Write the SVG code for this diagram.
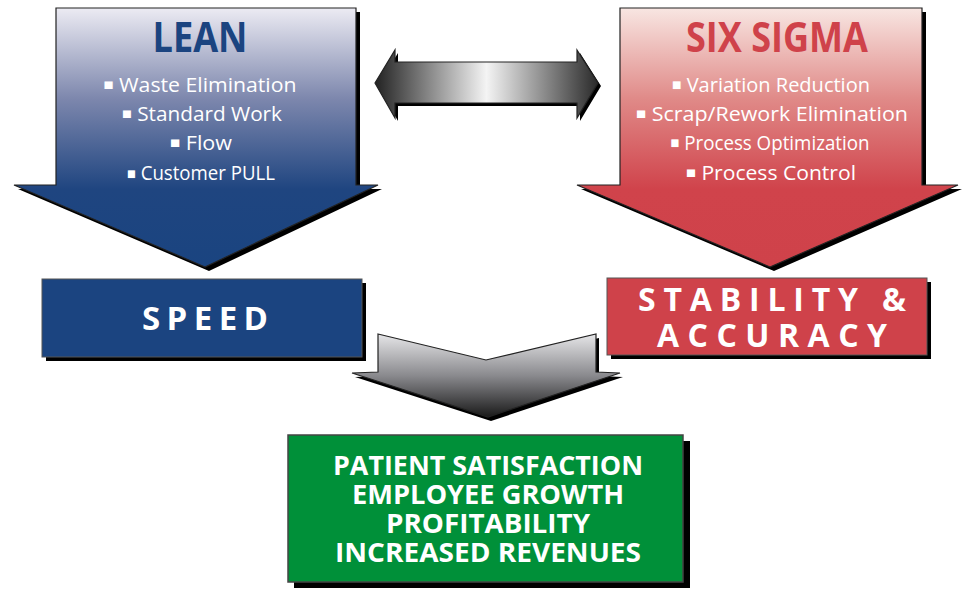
<svg xmlns="http://www.w3.org/2000/svg" width="966" height="590" viewBox="0 0 966 590">
<defs>
<linearGradient id="gLean" x1="0" y1="8" x2="0" y2="267" gradientUnits="userSpaceOnUse">
<stop offset="0" stop-color="#ecebf3"/>
<stop offset="0.35" stop-color="#7d87ad"/>
<stop offset="0.7" stop-color="#1f4580"/>
<stop offset="1" stop-color="#1a4480"/>
</linearGradient>
<linearGradient id="gSix" x1="0" y1="8" x2="0" y2="267" gradientUnits="userSpaceOnUse">
<stop offset="0" stop-color="#f8e6e2"/>
<stop offset="0.35" stop-color="#e08a88"/>
<stop offset="0.7" stop-color="#d0434b"/>
<stop offset="1" stop-color="#cf424a"/>
</linearGradient>
<linearGradient id="gDbl" x1="375" y1="0" x2="598" y2="0" gradientUnits="userSpaceOnUse">
<stop offset="0" stop-color="#222222"/>
<stop offset="0.5" stop-color="#f4f4f4"/>
<stop offset="1" stop-color="#2a2a2a"/>
</linearGradient>
<linearGradient id="gDown" x1="0" y1="334" x2="0" y2="417" gradientUnits="userSpaceOnUse">
<stop offset="0" stop-color="#e6e6e8"/>
<stop offset="0.5" stop-color="#8a8a8e"/>
<stop offset="1" stop-color="#1a1a1a"/>
</linearGradient>
</defs>
<style>
.shadow{fill:#000}
.edge{stroke:#222;stroke-width:1.2}
.title{font-family:"Open Sans","Liberation Sans",sans-serif;font-weight:bold;font-size:42px;text-anchor:middle}
.item{font-family:"Open Sans","Liberation Sans",sans-serif;font-size:20px;fill:#fff;text-anchor:middle}
.b{font-family:"DejaVu Sans",sans-serif;font-size:10px}
.box{font-family:"Open Sans","Liberation Sans",sans-serif;font-weight:bold;fill:#fff;text-anchor:middle}
</style>
<rect width="966" height="590" fill="#fff"/>

<g id="lean">
<polygon class="shadow" points="60,12 360,12 360,189 382,189 209,271 18,189 60,189"/>
<polygon class="edge" fill="url(#gLean)" points="56,8 356,8 356,185 378,185 205,267 14,185 56,185"/>
<text class="title" x="200" y="52" fill="#1b4480" textLength="95" lengthAdjust="spacingAndGlyphs">LEAN</text>
<text class="item" x="200" y="92" textLength="193" lengthAdjust="spacingAndGlyphs"><tspan class="b" dy="-4">■</tspan><tspan dy="4"> Waste Elimination</tspan></text>
<text class="item" x="202" y="121" textLength="160" lengthAdjust="spacingAndGlyphs"><tspan class="b" dy="-4">■</tspan><tspan dy="4"> Standard Work</tspan></text>
<text class="item" x="201" y="150" textLength="62" lengthAdjust="spacingAndGlyphs"><tspan class="b" dy="-4">■</tspan><tspan dy="4"> Flow</tspan></text>
<text class="item" x="201" y="180" font-size="17" textLength="148" lengthAdjust="spacingAndGlyphs"><tspan class="b" dy="-3">■</tspan><tspan dy="3"> Customer PULL</tspan></text>
</g>

<g id="sixsigma">
<polygon class="shadow" points="624,12 926,12 926,189 962,189 774,271 581,189 624,189"/>
<polygon class="edge" fill="url(#gSix)" points="620,8 922,8 922,185 958,185 770,267 577,185 620,185"/>
<text class="title" x="777" y="52" fill="#cf424a" textLength="182" lengthAdjust="spacingAndGlyphs">SIX SIGMA</text>
<text class="item" x="771" y="92" textLength="198" lengthAdjust="spacingAndGlyphs"><tspan class="b" dy="-4">■</tspan><tspan dy="4"> Variation Reduction</tspan></text>
<text class="item" x="772" y="121" textLength="272" lengthAdjust="spacingAndGlyphs"><tspan class="b" dy="-4">■</tspan><tspan dy="4"> Scrap/Rework Elimination</tspan></text>
<text class="item" x="770" y="150" textLength="199" lengthAdjust="spacingAndGlyphs"><tspan class="b" dy="-4">■</tspan><tspan dy="4"> Process Optimization</tspan></text>
<text class="item" x="771" y="180" textLength="170" lengthAdjust="spacingAndGlyphs"><tspan class="b" dy="-4">■</tspan><tspan dy="4"> Process Control</tspan></text>
</g>

<g id="speed">
<rect class="shadow" x="46" y="283" width="320" height="78"/>
<rect x="42" y="279" width="320" height="78" fill="#1b4480" stroke="#555" stroke-width="1"/>
<text class="box" x="205" y="330" font-size="33" textLength="126" lengthAdjust="spacing">SPEED</text>
</g>

<g id="stability">
<rect class="shadow" x="611" y="282" width="320" height="77"/>
<rect x="607" y="278" width="320" height="77" fill="#cf424a" stroke="#555" stroke-width="1"/>
<text class="box" x="772" y="311" font-size="32" textLength="268" lengthAdjust="spacing">STABILITY &amp;</text>
<text class="box" x="772" y="347" font-size="32" textLength="230" lengthAdjust="spacing">ACCURACY</text>
</g>

<g id="outcomes">
<rect class="shadow" x="294" y="441" width="396" height="147"/>
<rect x="288" y="435" width="395" height="147" fill="#009039" stroke="#444" stroke-width="1.5"/>
<text class="box" x="488" y="475" font-size="26" textLength="310" lengthAdjust="spacingAndGlyphs">PATIENT SATISFACTION</text>
<text class="box" x="488" y="504" font-size="26" textLength="272" lengthAdjust="spacingAndGlyphs">EMPLOYEE GROWTH</text>
<text class="box" x="488" y="533" font-size="26" textLength="204" lengthAdjust="spacingAndGlyphs">PROFITABILITY</text>
<text class="box" x="488" y="562" font-size="26" textLength="306" lengthAdjust="spacingAndGlyphs">INCREASED REVENUES</text>
</g>

<g id="connectors">
<polygon class="shadow" points="378,86 398,53 398,65 580,65 580,53 601,86 580,121 580,106 398,106 398,121"/>
<polygon class="edge" fill="url(#gDbl)" points="375,83 395,50 395,62 577,62 577,50 598,83 577,118 577,103 395,103 395,118"/>
<polygon class="shadow" points="381,338 489,364 599,338 599,376 623,377 491,421 355,377 381,376"/>
<polygon class="edge" fill="url(#gDown)" points="378,334 486,360 596,334 596,372 620,373 488,417 352,373 378,372"/>
</g>
</svg>
